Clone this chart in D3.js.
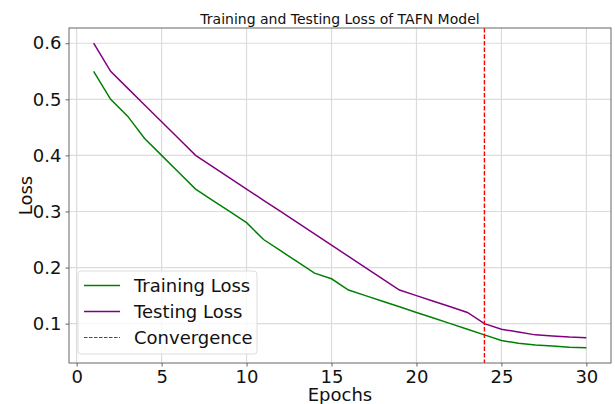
<!DOCTYPE html>
<html>
<head>
<meta charset="utf-8">
<script src="https://cdn.jsdelivr.net/npm/d3@7"></script>
<style>
  body { margin: 0; background: #fff; }
  svg { display: block; font-family: "DejaVu Sans", sans-serif; }
</style>
</head>
<body>
<svg id="chart" width="615" height="404"></svg>
<script>
// Loss per epoch
const epochs = d3.range(1, 31);
const trainingLoss = [0.55, 0.50, 0.47, 0.43, 0.40, 0.37, 0.34, 0.32, 0.30, 0.28,
                      0.25, 0.23, 0.21, 0.19, 0.18, 0.16, 0.15, 0.14, 0.13, 0.12,
                      0.11, 0.10, 0.09, 0.08, 0.07, 0.065, 0.062, 0.060, 0.058, 0.057];
const testingLoss  = [0.60, 0.55, 0.52, 0.49, 0.46, 0.43, 0.40, 0.38, 0.36, 0.34,
                      0.32, 0.30, 0.28, 0.26, 0.24, 0.22, 0.20, 0.18, 0.16, 0.15,
                      0.14, 0.13, 0.12, 0.10, 0.09, 0.085, 0.080, 0.078, 0.076, 0.075];
const convergenceEpoch = 24;
const xTicks = [0, 5, 10, 15, 20, 25, 30];
const yTicks = [0.1, 0.2, 0.3, 0.4, 0.5, 0.6];
const seriesNames = ["Training Loss", "Testing Loss", "Convergence"];

const svg = d3.select("#chart");
const m = { left: 69, right: 611, top: 28, bottom: 363 };

// Axis ranges padded 5% like the default autoscale
const xPad = (30 - 1) * 0.05;
const yMin = d3.min(trainingLoss), yMax = d3.max(testingLoss);
const yPad = (yMax - yMin) * 0.05;
const x = d3.scaleLinear().domain([1 - xPad, 30 + xPad]).range([m.left, m.right]);
const y = d3.scaleLinear().domain([yMin - yPad, yMax + yPad]).range([m.bottom, m.top]);

// Grid
const grid = svg.append("g");
grid.selectAll("line.vx").data(xTicks).join("line")
  .attr("x1", d => x(d)).attr("x2", d => x(d))
  .attr("y1", m.top).attr("y2", m.bottom)
  .attr("stroke", "#dcdcdc").attr("stroke-width", 1.2);
grid.selectAll("line.hy").data(yTicks).join("line")
  .attr("y1", d => y(d)).attr("y2", d => y(d))
  .attr("x1", m.left).attr("x2", m.right)
  .attr("stroke", "#dcdcdc").attr("stroke-width", 1.2);

// Lines
const line = vals => d3.line().x((d, i) => x(epochs[i])).y(d => y(d))(vals);
svg.append("path").attr("d", line(trainingLoss))
  .attr("fill", "none").attr("stroke", "green").attr("stroke-width", 1.5);
svg.append("path").attr("d", line(testingLoss))
  .attr("fill", "none").attr("stroke", "purple").attr("stroke-width", 1.5);

// Convergence marker
svg.append("line")
  .attr("x1", x(convergenceEpoch)).attr("x2", x(convergenceEpoch))
  .attr("y1", m.top).attr("y2", m.bottom)
  .attr("stroke", "red").attr("stroke-width", 1.4)
  .attr("stroke-dasharray", "4.5,2");

// Frame
svg.append("rect")
  .attr("x", m.left).attr("y", m.top)
  .attr("width", m.right - m.left).attr("height", m.bottom - m.top)
  .attr("fill", "none").attr("stroke", "#666").attr("stroke-width", 1);

// Axes
const xAxis = d3.axisBottom(x).tickValues(xTicks).tickFormat(d3.format("d"))
  .tickSize(3.5).tickPadding(4);
const yAxis = d3.axisLeft(y).tickValues(yTicks).tickFormat(d3.format(".1f"))
  .tickSize(3.5).tickPadding(4);
const gx = svg.append("g").attr("transform", `translate(0,${m.bottom})`).call(xAxis);
const gy = svg.append("g").attr("transform", `translate(${m.left},0)`).call(yAxis);
[gx, gy].forEach(g => {
  g.select(".domain").remove();
  g.selectAll(".tick line").attr("stroke", "#666");
  g.selectAll(".tick text").attr("fill", "#111").style("font-size", "18px")
    .style("font-family", "DejaVu Sans, sans-serif");
});

// Titles
svg.append("text").attr("x", (m.left + m.right) / 2).attr("y", 24)
  .attr("text-anchor", "middle").style("font-size", "14px").attr("fill", "#111")
  .text("Training and Testing Loss of TAFN Model");
svg.append("text").attr("x", (m.left + m.right) / 2).attr("y", 401)
  .attr("text-anchor", "middle").style("font-size", "18px").attr("fill", "#111")
  .text("Epochs");
svg.append("text")
  .attr("transform", `translate(32,${(m.top + m.bottom) / 2}) rotate(-90)`)
  .attr("text-anchor", "middle").style("font-size", "18px").attr("fill", "#111")
  .text("Loss");

// Legend
const lg = svg.append("g");
lg.append("rect").attr("x", 78).attr("y", 271).attr("width", 179).attr("height", 83)
  .attr("rx", 3).attr("fill", "#fff").attr("fill-opacity", 0.8)
  .attr("stroke", "#ddd").attr("stroke-width", 1);
const legendStyles = [
  { color: "green", dash: null, w: 1.5 },
  { color: "purple", dash: null, w: 1.5 },
  { color: "#ff0000", dash: "3.5,1.5", w: 1.2 }
];
seriesNames.forEach((name, i) => {
  const yy = 285.5 + i * 26;
  lg.append("line").attr("x1", 84).attr("x2", 120).attr("y1", yy).attr("y2", yy)
    .attr("stroke", legendStyles[i].color).attr("stroke-width", legendStyles[i].w)
    .attr("stroke-dasharray", legendStyles[i].dash);
  lg.append("text").attr("x", 134).attr("y", yy + 6.5)
    .style("font-size", "18px").attr("fill", "#111").text(name);
});
</script>
</body>
</html>
